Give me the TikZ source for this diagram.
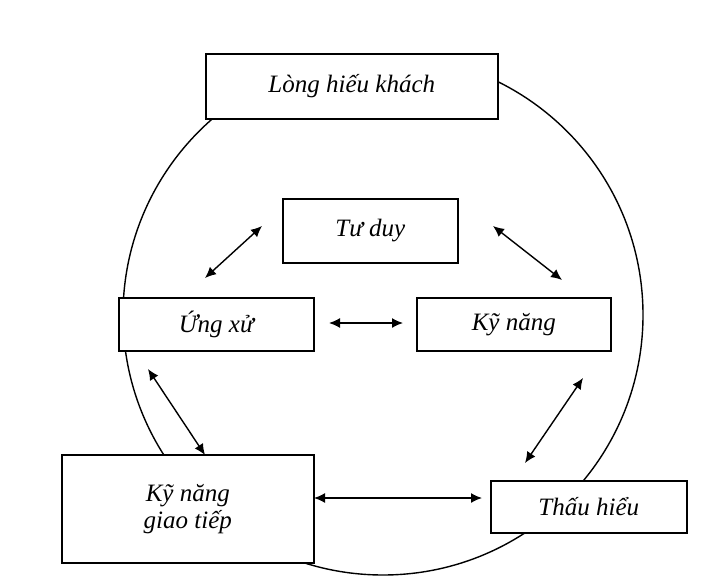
\documentclass[tikz,border=0pt]{standalone}
\usepackage{fontspec}
\setmainfont{Liberation Serif}
\usetikzlibrary{arrows.meta}
\begin{document}
\begin{tikzpicture}[x=1pt,y=-1pt,
  bx/.style={draw,line width=1.6pt,fill=white,font=\itshape\fontsize{25}{27}\selectfont,align=center,anchor=north west,inner sep=0pt},
  dbl/.style={{Latex[length=11pt,width=10pt]}-{Latex[length=11pt,width=10pt]},line width=1.4pt}]
\useasboundingbox (0,0) rectangle (714,580);
\draw[line width=1.4pt] (383,315) circle[radius=260];
\node[bx,minimum width=292pt,minimum height=65pt] (lhk) at (205,53) {Lòng hiếu khách};
\node[bx,minimum width=175pt,minimum height=64pt] (td) at (282,198) {Tư duy};
\node[bx,minimum width=195pt,minimum height=53pt] (ux) at (118,297) {Ứng xử};
\node[bx,minimum width=194pt,minimum height=53pt] (kn) at (416,297) {Kỹ năng};
\node[bx,minimum width=252pt,minimum height=108pt] (gt) at (61,454) {Kỹ năng\\giao tiếp};
\node[bx,minimum width=196pt,minimum height=52pt] (th) at (490,480) {Thấu hiểu};
\coordinate (a1) at (262,226); \coordinate (a2) at (205,278);
\coordinate (b1) at (493,226); \coordinate (b2) at (562,280);
\coordinate (c1) at (329,323); \coordinate (c2) at (403,323);
\coordinate (d1) at (148,369); \coordinate (d2) at (205,455);
\coordinate (e1) at (583,378); \coordinate (e2) at (525,463);
\coordinate (f1) at (314,498); \coordinate (f2) at (482,498);
\draw[dbl] (a1) -- (a2);
\draw[dbl] (b1) -- (b2);
\draw[dbl] (c1) -- (c2);
\draw[dbl] (d1) -- (d2);
\draw[dbl] (e1) -- (e2);
\draw[dbl] (f1) -- (f2);
\end{tikzpicture}
\end{document}
